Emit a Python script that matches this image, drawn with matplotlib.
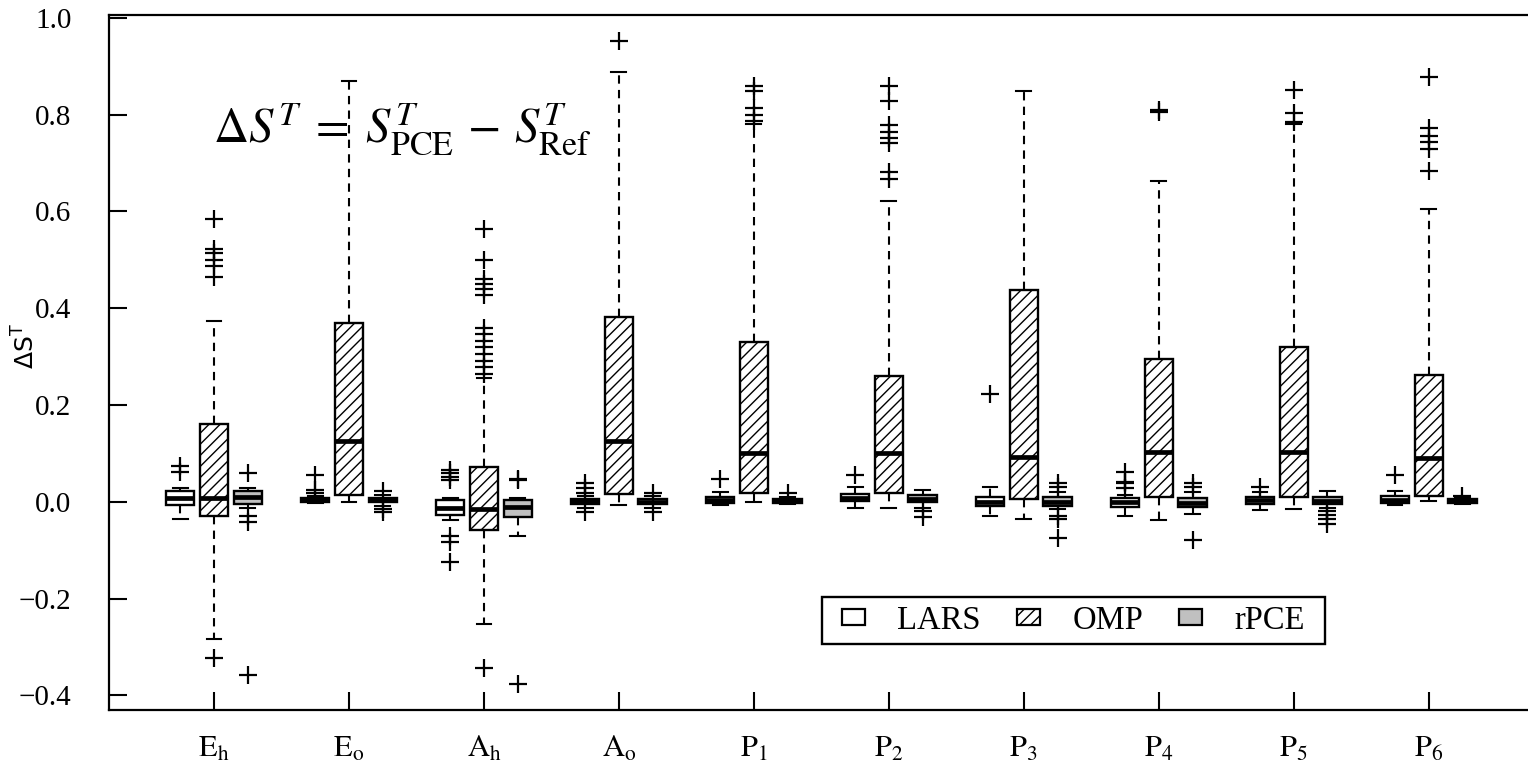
import numpy as np
import matplotlib
matplotlib.use("Agg")
import matplotlib.pyplot as plt
from matplotlib.patches import Patch, Rectangle

plt.rcParams['font.family'] = ['Liberation Serif', 'DejaVu Serif']
plt.rcParams['mathtext.fontset'] = 'stix'
plt.rcParams['hatch.linewidth'] = 1.0

# ------------ data: per-parameter box statistics ----------
params = [r'$\mathrm{E_h}$', r'$\mathrm{E_o}$', r'$\mathrm{A_h}$', r'$\mathrm{A_o}$',
          r'$\mathrm{P_1}$', r'$\mathrm{P_2}$', r'$\mathrm{P_3}$', r'$\mathrm{P_4}$',
          r'$\mathrm{P_5}$', r'$\mathrm{P_6}$']
methods = ['LARS', 'OMP', 'rPCE']

lars_q1 = [-0.007, 0.000, -0.027, -0.004, -0.002, 0.001, -0.009, -0.011, -0.004, -0.003]
lars_med = [0.008, 0.004, -0.013, 0.001, 0.004, 0.008, 0.000, -0.001, 0.003, 0.004]
lars_q3 = [0.022, 0.009, 0.003, 0.006, 0.010, 0.016, 0.011, 0.008, 0.011, 0.013]
lars_lo = [-0.036, -0.003, -0.037, -0.012, -0.006, -0.013, -0.029, -0.029, -0.016, -0.006]
lars_hi = [0.028, 0.012, 0.008, 0.012, 0.020, 0.030, 0.030, 0.015, 0.020, 0.022]
lars_fliers = [[0.061, 0.074],
               [0.018, 0.025, 0.056],
               [0.045, 0.052, 0.060, 0.065, -0.070, -0.082, -0.124],
               [0.018, 0.028, 0.040, -0.020],
               [0.048],
               [0.055],
               [0.222],
               [0.028, 0.040, 0.042, 0.062],
               [0.030],
               [0.055]]

omp_q1 = [-0.030, 0.014, -0.059, 0.016, 0.019, 0.019, 0.005, 0.011, 0.011, 0.012]
omp_med = [0.008, 0.125, -0.015, 0.125, 0.100, 0.100, 0.093, 0.103, 0.103, 0.091]
omp_q3 = [0.161, 0.370, 0.072, 0.382, 0.330, 0.261, 0.437, 0.296, 0.321, 0.262]
omp_lo = [-0.284, 0.000, -0.252, -0.006, 0.000, -0.013, -0.036, -0.038, -0.015, 0.002]
omp_hi = [0.373, 0.869, 0.255, 0.889, 0.780, 0.621, 0.850, 0.664, 0.780, 0.606]
omp_fliers = [[0.464, 0.487, 0.500, 0.514, 0.523, 0.585, -0.323],
              [],
              [0.265, 0.278, 0.291, 0.305, 0.319, 0.332, 0.346, 0.360,
               0.428, 0.440, 0.451, 0.460, 0.500, 0.564, -0.344],
              [0.952],
              [0.787, 0.800, 0.814, 0.850, 0.860],
              [0.668, 0.682, 0.741, 0.752, 0.764, 0.778, 0.828, 0.860],
              [],
              [0.805, 0.810],
              [0.785, 0.803, 0.852],
              [0.683, 0.730, 0.743, 0.757, 0.773, 0.878]]

rpce_q1 = [-0.005, -0.001, -0.032, -0.005, -0.002, 0.000, -0.009, -0.011, -0.004, -0.002]
rpce_med = [0.010, 0.004, -0.010, 0.000, 0.001, 0.005, 0.000, -0.002, 0.002, 0.002]
rpce_q3 = [0.023, 0.009, 0.003, 0.005, 0.005, 0.014, 0.011, 0.008, 0.011, 0.006]
rpce_lo = [-0.012, -0.008, -0.070, -0.012, -0.004, -0.012, -0.015, -0.024, -0.012, -0.005]
rpce_hi = [0.028, 0.015, 0.008, 0.012, 0.010, 0.025, 0.020, 0.020, 0.023, 0.010]
rpce_fliers = [[0.059, -0.030, -0.041, -0.357],
               [0.022, -0.015, -0.020],
               [0.045, 0.048, -0.376],
               [0.018, -0.020],
               [0.018],
               [-0.018, -0.031],
               [0.030, 0.040, -0.030, -0.035, -0.075],
               [0.030, 0.040, -0.078],
               [-0.018, -0.027, -0.036, -0.045],
               [0.012]]

yticks = [-0.4, -0.2, 0.0, 0.2, 0.4, 0.6, 0.8, 1.0]


def make_stats(q1, med, q3, lo, hi, fliers):
    return [dict(q1=a, med=m, q3=b, whislo=l, whishi=h, fliers=f)
            for a, m, b, l, h, f in zip(q1, med, q3, lo, hi, fliers)]


series = [
    (make_stats(lars_q1, lars_med, lars_q3, lars_lo, lars_hi, lars_fliers), -0.25, 'white', None),
    (make_stats(omp_q1, omp_med, omp_q3, omp_lo, omp_hi, omp_fliers), 0.0, 'white', '///'),
    (make_stats(rpce_q1, rpce_med, rpce_q3, rpce_lo, rpce_hi, rpce_fliers), 0.25, '#c0c0c0', None),
]

# ------------ figure ----------
fig = plt.figure(figsize=(15.28, 7.64), dpi=100)
ax = fig.add_axes([109 / 1528, 54 / 764, 1425 / 1528, 695 / 764])

x = np.arange(1, len(params) + 1)
for stats, offset, color, hatch in series:
    ax.bxp(stats, positions=x + offset, widths=0.21, patch_artist=True,
           manage_ticks=False, capwidths=0.11,
           boxprops=dict(facecolor=color, edgecolor='black', linewidth=1.7, hatch=hatch),
           medianprops=dict(color='black', linewidth=3.4, solid_capstyle='butt'),
           whiskerprops=dict(color='black', linewidth=1.5, linestyle=(0, (4, 3))),
           capprops=dict(color='black', linewidth=1.5),
           flierprops=dict(marker='+', markersize=13, markeredgewidth=1.6,
                           markeredgecolor='black', linestyle='none'))

ax.set_xlim(0.222, 10.78)
ax.set_ylim(-0.43, 1.006)
ax.set_xticks(x)
ax.set_xticklabels(params, fontsize=22)
ax.set_yticks(yticks)
ax.set_yticklabels(['%.1f' % v if v >= 0 else '\u2212%.1f' % abs(v) for v in yticks], fontsize=21)
ax.tick_params(direction='in', length=13, width=1.5, top=False, right=False)
ax.tick_params(axis='x', pad=18)
ax.tick_params(axis='y', pad=27)
for side in ax.spines.values():
    side.set_linewidth(1.6)

# y label sits between the 0.4 and 0.2 tick labels
fig.text(26 / 1528, 1 - 346 / 764, r'$\Delta\mathrm{S}^\mathrm{T}$', fontsize=18,
         math_fontfamily='dejavusans', rotation=90, ha='center', va='center')

ax.text(0.073, 0.816, r'$\Delta S^T\;=\;S^T_{\mathrm{PCE}}\,-\,S^T_{\mathrm{Ref}}$',
        transform=ax.transAxes, fontsize=35, ha='left', va='baseline', math_fontfamily='stix')

# legend with a square frame drawn separately
ax.add_patch(Rectangle((0.5004, 0.095), 0.3529, 0.0676, transform=ax.transAxes,
                       facecolor='white', edgecolor='black', linewidth=1.7, zorder=4))
handles = [Patch(facecolor='white', edgecolor='black', linewidth=1.6),
           Patch(facecolor='white', edgecolor='black', linewidth=1.6, hatch='///'),
           Patch(facecolor='#c0c0c0', edgecolor='black', linewidth=1.6)]
leg = ax.legend(handles, methods, loc='center', bbox_to_anchor=(0.6768, 0.1288), ncol=3,
                fontsize=23.5, frameon=False,
                handlelength=0.7, handleheight=0.35, handletextpad=1.0,
                columnspacing=1.1, borderpad=0.2)
leg.set_zorder(5)

fig.savefig('out.png', dpi=100)
